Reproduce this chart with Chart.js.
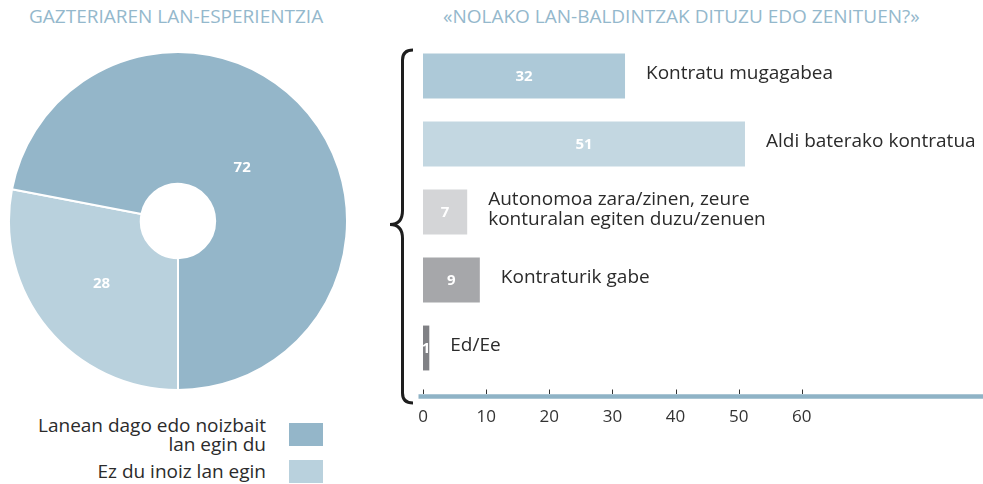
<!DOCTYPE html>
<html>
<head>
<meta charset="utf-8">
<script src="https://cdn.jsdelivr.net/npm/chart.js@4/dist/chart.umd.min.js"></script>
<style>
  body { margin:0; width:983px; height:484px; background:#fff; position:relative; overflow:hidden; font-family:"Open Sans", sans-serif; }
  .title { position:absolute; top:3px; color:#94b8cc; font-size:19px; white-space:nowrap; }
  #pieBox { position:absolute; left:8px; top:51px; width:340px; height:340px; }
  #barBox { position:absolute; left:380px; top:40px; width:603px; height:412px; }
  #legend { position:absolute; left:0; top:416px; width:323px; }
  .row { display:flex; justify-content:flex-end; align-items:center; height:37px; }
  .row span { text-align:right; font-size:19px; line-height:18.5px; color:#2b2b2b; margin-right:23px; white-space:pre; }
  .row i { display:block; width:34px; height:23px; }
</style>
</head>
<body>
<div class="title" style="left:29px">GAZTERIAREN LAN-ESPERIENTZIA</div>
<div class="title" style="left:443px">«NOLAKO LAN-BALDINTZAK DITUZU EDO ZENITUEN?»</div>
<div id="pieBox"><canvas id="pie"></canvas></div>
<div id="barBox"><canvas id="bars"></canvas></div>
<div id="legend"></div>
<script>
// doughnut: starts at 6 o'clock, 28 goes clockwise first
const pieLabels = ['Ez du inoiz lan egin', 'Lanean dago edo noizbait\nlan egin du'];
const pieValues = [28, 72];
const pieColors = ['#b9d1dd', '#94b6c9'];

const barLabels = ['Kontratu mugagabea', 'Aldi baterako kontratua', 'Autonomoa zara/zinen, zeure\nkonturalan egiten duzu/zenuen', 'Kontraturik gabe', 'Ed/Ee'];
const barValues = [32, 51, 7, 9, 1];
const barColors = ['#adc9d8', '#c3d7e1', '#d4d5d7', '#a6a7aa', '#808185'];
const tickValues = [0, 10, 20, 30, 40, 50, 60];

// legend (72 first)
const legend = document.getElementById('legend');
[1, 0].forEach(i => {
  const row = document.createElement('div');
  row.className = 'row';
  row.innerHTML = '<span></span><i></i>';
  row.querySelector('span').textContent = pieLabels[i];
  row.querySelector('i').style.background = pieColors[i];
  legend.appendChild(row);
});

const pieText = {
  id: 'pieText',
  afterDatasetsDraw(chart) {
    const ctx = chart.ctx;
    const radFrac = [0.47, 0.35];
    ctx.save();
    ctx.font = 'bold 15px "Open Sans"';
    ctx.fillStyle = '#fff';
    ctx.textAlign = 'center';
    ctx.textBaseline = 'middle';
    chart.getDatasetMeta(0).data.forEach((arc, i) => {
      const p = arc.getProps(['x', 'y', 'startAngle', 'endAngle', 'innerRadius', 'outerRadius']);
      const a = (p.startAngle + p.endAngle) / 2;
      const r = p.innerRadius + (p.outerRadius - p.innerRadius) * radFrac[i];
      ctx.fillText(pieValues[i], p.x + Math.cos(a) * r, p.y + Math.sin(a) * r);
    });
    ctx.restore();
  }
};

new Chart(document.getElementById('pie'), {
  type: 'doughnut',
  data: {
    labels: pieLabels,
    datasets: [{
      data: pieValues,
      backgroundColor: pieColors,
      borderColor: '#fff',
      borderWidth: 2,
      hoverOffset: 0
    }]
  },
  options: {
    responsive: true,
    maintainAspectRatio: false,
    animation: false,
    rotation: 180,
    cutout: '22%',
    plugins: { legend: { display: false }, tooltip: { enabled: false } }
  },
  plugins: [pieText]
});

const barDecor = {
  id: 'barDecor',
  beforeDatasetsDraw(chart) {
    const ctx = chart.ctx, ca = chart.chartArea, x = chart.scales.x;
    const y = ca.bottom + 14.5;
    ctx.save();
    // axis line
    ctx.strokeStyle = '#8fb3c6';
    ctx.lineWidth = 4.5;
    ctx.beginPath();
    ctx.moveTo(x.getPixelForValue(0) - 4.5, y);
    ctx.lineTo(chart.width, y);
    ctx.stroke();
    // tick marks above the line
    ctx.strokeStyle = '#333';
    ctx.lineWidth = 1;
    tickValues.forEach(v => {
      const px = Math.round(x.getPixelForValue(v)) + 0.5;
      ctx.beginPath();
      ctx.moveTo(px, y - 7);
      ctx.lineTo(px, y - 2.5);
      ctx.stroke();
    });
    // brace
    const xv = ca.left - 20.5, xr = ca.left - 10, xt = ca.left - 33;
    const yt = ca.top + 8, yb = ca.bottom + 21, ym = (yt + yb) / 2 - 2;
    ctx.strokeStyle = '#1e1e1e';
    ctx.lineWidth = 3;
    ctx.beginPath();
    ctx.moveTo(xr, yt);
    ctx.quadraticCurveTo(xv, yt, xv, yt + 10);
    ctx.lineTo(xv, ym - 14);
    ctx.quadraticCurveTo(xv, ym, xt, ym);
    ctx.quadraticCurveTo(xv, ym, xv, ym + 14);
    ctx.lineTo(xv, yb - 10);
    ctx.quadraticCurveTo(xv, yb, xr, yb);
    ctx.stroke();
    ctx.restore();
  },
  afterDatasetsDraw(chart) {
    const ctx = chart.ctx;
    ctx.save();
    ctx.textBaseline = 'middle';
    chart.getDatasetMeta(0).data.forEach((bar, i) => {
      ctx.font = 'bold 15px "Open Sans"';
      ctx.fillStyle = '#fff';
      ctx.textAlign = 'center';
      ctx.fillText(barValues[i], (bar.x + bar.base) / 2, bar.y + 1);
      ctx.font = '19px "Open Sans"';
      ctx.fillStyle = '#2b2b2b';
      ctx.textAlign = 'left';
      const lines = barLabels[i].split('\n');
      lines.forEach((ln, k) => {
        ctx.fillText(ln, bar.x + 21, bar.y - 2 + (k - (lines.length - 1) / 2) * 20);
      });
    });
    ctx.restore();
  }
};

new Chart(document.getElementById('bars'), {
  type: 'bar',
  data: {
    labels: barLabels,
    datasets: [{
      data: barValues,
      backgroundColor: barColors,
      categoryPercentage: 1,
      barPercentage: 0.66
    }]
  },
  options: {
    indexAxis: 'y',
    responsive: true,
    maintainAspectRatio: false,
    animation: false,
    layout: { padding: { top: 2, left: 43, right: 0, bottom: 0 } },
    scales: {
      x: {
        min: 0,
        max: 88.7,
        afterBuildTicks: s => { s.ticks = tickValues.map(v => ({ value: v })); },
        afterFit: s => { s.height = 70; },
        grid: { display: false, drawTicks: false },
        border: { display: false },
        ticks: { padding: 25, color: '#333', font: { family: 'Open Sans', size: 17 } }
      },
      y: { display: false }
    },
    plugins: { legend: { display: false }, tooltip: { enabled: false } }
  },
  plugins: [barDecor]
});
</script>
</body>
</html>
